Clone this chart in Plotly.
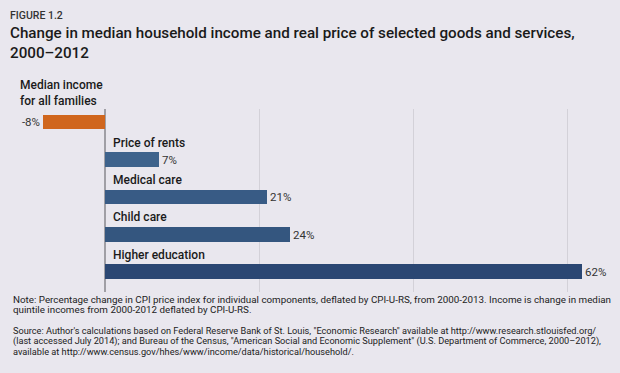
import plotly.graph_objects as go

# ---- data ----
categories = ["Median income<br>for all families", "Price of rents", "Medical care",
              "Child care", "Higher education"]
values = [-8, 7, 21, 24, 62]
value_labels = ["-8%", "7%", "21%", "24%", "62%"]
bar_colors = ["#d0661d", "#3e638c", "#385b85", "#34567f", "#2b4773"]
grid_ticks = [0, 20, 40, 60]

title_kicker = "FIGURE 1.2"
title_text = ("Change in median household income and real price of selected goods and services,"
              "<br>2000\u20132012")
note_lines = [
    "Note: Percentage change in CPI price index for individual components, deflated by CPI-U-RS, "
    "from 2000-2013. Income is change in median",
    "quintile incomes from 2000-2012 deflated by CPI-U-RS.",
]
source_lines = [
    "Source: Author's calculations based on Federal Reserve Bank of St. Louis, \"Economic Research\" "
    "available at http://www.research.stlouisfed.org/",
    "(last accessed July 2014); and Bureau of the Census, \"American Social and Economic Supplement\" "
    "(U.S. Department of Commerce, 2000\u20132012),",
    "available at http://www.census.gov/hhes/www/income/data/historical/household/.",
]

# ---- layout geometry (pixels) ----
W, H = 620, 373
L, R, T, B = 10, 610, 109, 292
BG = "#e9e7ee"
FONT = "Roboto"
ZERO_PX, PX_PER_UNIT = 105, 7.7

def px_x(p):
    return (p - L) / (R - L)

def px_y(p):
    return (B - p) / (B - T)

positions = list(range(len(categories)))

fig = go.Figure()
fig.add_trace(go.Bar(
    x=values, y=positions, orientation="h",
    marker=dict(color=bar_colors, line=dict(width=0)),
    width=0.39,
    text=value_labels, textposition="outside",
    textfont=dict(family=FONT, size=11.5, color="#333333"),
    cliponaxis=False, hoverinfo="skip",
))

# category labels above bars
for i, (cat, v) in enumerate(zip(categories, values)):
    if v < 0:
        fig.add_annotation(x=px_x(18), y=px_y(93), xref="paper", yref="paper", text=cat,
                           showarrow=False, xanchor="left", yanchor="middle", align="left",
                           font=dict(family=FONT, size=12, color="#1a1a1a", weight=500))
    else:
        fig.add_annotation(x=0, y=i - 0.45, xref="x", yref="y", text=cat,
                           showarrow=False, xanchor="left", yanchor="middle",
                           xshift=6, align="left",
                           font=dict(family=FONT, size=12, color="#1a1a1a", weight=500))

# titles
fig.add_annotation(x=px_x(8), y=px_y(15), xref="paper", yref="paper", text=title_kicker,
                   showarrow=False, xanchor="left", yanchor="middle",
                   font=dict(family=FONT, size=10.5, color="#333333", weight=500))
fig.add_annotation(x=px_x(8), y=px_y(43), xref="paper", yref="paper", text=title_text,
                   showarrow=False, xanchor="left", yanchor="middle", align="left",
                   font=dict(family=FONT, size=15.2, color="#1a1a1a", weight=500))

note_y = [299, 309.7]
source_y = [330.7, 341.2, 351.7]
for line, yp in zip(note_lines, note_y):
    fig.add_annotation(x=px_x(11), y=px_y(yp), xref="paper", yref="paper", text=line,
                       showarrow=False, xanchor="left", yanchor="middle", align="left",
                       font=dict(family=FONT, size=9.8, color="#222222"))
for line, yp in zip(source_lines, source_y):
    fig.add_annotation(x=px_x(11), y=px_y(yp), xref="paper", yref="paper", text=line,
                       showarrow=False, xanchor="left", yanchor="middle", align="left",
                       font=dict(family=FONT, size=9.2, color="#222222"))

x_left = (L - ZERO_PX) / PX_PER_UNIT
x_right = (R - ZERO_PX) / PX_PER_UNIT
fig.update_layout(
    width=W, height=H,
    margin=dict(l=L, r=W - R, t=T, b=H - B, pad=0),
    paper_bgcolor=BG, plot_bgcolor=BG,
    showlegend=False,
    bargap=0,
    xaxis=dict(range=[x_left, x_right], tickvals=grid_ticks, showticklabels=False,
               showgrid=True, gridcolor="#d3d1d8", gridwidth=1,
               zeroline=True, zerolinecolor="#a09fa5", zerolinewidth=2,
               showline=False, fixedrange=True),
    yaxis=dict(range=[4.54, -0.347], showticklabels=False, showgrid=False,
               zeroline=False, showline=False, fixedrange=True),
)

fig.write_html("out.html", config={"displayModeBar": False},
               post_script="document.body.style.margin='0';")
